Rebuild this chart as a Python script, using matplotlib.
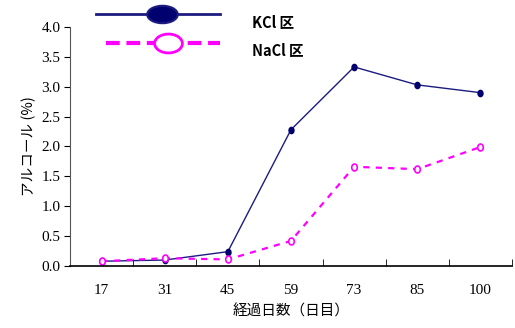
import numpy as np
import matplotlib.pyplot as plt
from matplotlib.lines import Line2D
from matplotlib.path import Path
from matplotlib.transforms import Affine2D

days = ['17', '31', '45', '59', '73', '85', '100']
kcl = [0.08, 0.10, 0.24, 2.28, 3.33, 3.03, 2.90]
nacl = [0.08, 0.13, 0.11, 0.42, 1.66, 1.62, 1.99]
yticks = [0.0, 0.5, 1.0, 1.5, 2.0, 2.5, 3.0, 3.5, 4.0]

jp = ['Noto Sans CJK JP', 'DejaVu Sans']
serif = 'Liberation Serif'

# flattened ellipses used as markers
ell = Path.unit_circle().transformed(Affine2D().scale(1.0, 0.57))
ell2 = Path.unit_circle().transformed(Affine2D().scale(1.0, 0.68))
ell_tall = Path.unit_circle().transformed(Affine2D().scale(0.8, 1.0))

fig = plt.figure(figsize=(5.15, 3.28), dpi=100)
ax = fig.add_axes([0.136, 0.189, 0.858, 0.729])

x = np.arange(len(days))
ax.plot(x, kcl, color='#1c1c80', lw=1.0, marker=ell_tall, ms=4.5,
        mfc='#00006e', mec='#00006e')
ax.plot(x, nacl, color='#ff00ff', lw=1.6, dashes=(2.8, 2.8), marker=ell_tall,
        ms=5, mfc='white', mec='#ff00ff', mew=1.2)

ax.set_xlim(-0.5, len(days) - 0.5)
ax.set_ylim(0, 4.0)
ax.set_yticks(yticks)
ax.set_yticklabels(['%.1f' % v for v in yticks], family=serif, fontsize=11)
ax.set_xticks(x)
ax.set_xticklabels(days, family=serif, fontsize=11)
ax.set_xticks(np.arange(len(days) + 1) - 0.5, minor=True)
ax.tick_params(axis='x', which='major', length=0, pad=13)
ax.tick_params(axis='x', which='minor', direction='in', length=5, color='black')
ax.tick_params(axis='y', direction='out', length=4, pad=3, color='black')
for s in ['top', 'right']:
    ax.spines[s].set_visible(False)
ax.spines['left'].set_color('#555555')
ax.spines['bottom'].set_color('black')
ax.spines['bottom'].set_linewidth(1.2)

ax.set_xlabel('経過日数（日目）', family=jp, fontsize=10.5, labelpad=5)
ax.set_ylabel('アルコール (%)', family=jp, fontsize=10.5, labelpad=4)

# legend drawn by hand above the plot area
fig.add_artist(Line2D([96 / 515, 220 / 515], [1 - 14 / 328] * 2, color='#1c1c80',
                      lw=2.0, transform=fig.transFigure))
fig.add_artist(Line2D([162 / 515], [1 - 14 / 328], marker=ell, ms=22,
                      mfc='#00006e', mec='#1c1c80', mew=1.5,
                      transform=fig.transFigure))
fig.add_artist(Line2D([106 / 515, 220 / 515], [1 - 43 / 328] * 2, color='#ff00ff',
                      lw=3.0, dashes=(3.3, 1.6), transform=fig.transFigure))
fig.add_artist(Line2D([168 / 515], [1 - 43 / 328], marker=ell2, ms=20,
                      mfc='white', mec='#ff00ff', mew=2.0,
                      transform=fig.transFigure))
fig.text(252 / 515, 1 - 23 / 328, 'KCl 区', family=jp, fontsize=10.5,
         fontweight='bold', va='center')
fig.text(252 / 515, 1 - 51 / 328, 'NaCl 区', family=jp, fontsize=10.5,
         fontweight='bold', va='center')

fig.savefig('out.png', dpi=100)
